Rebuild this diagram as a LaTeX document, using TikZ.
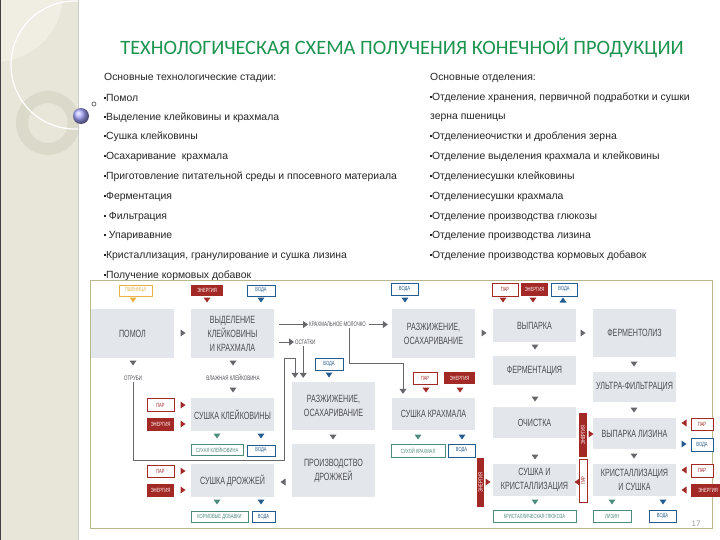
\documentclass[tikz,border=0pt]{standalone}
\usepackage{fontspec}
\setmainfont{Liberation Sans}
\newfontfamily\titlefont{Carlito}
\newfontfamily\narrowfont[FakeStretch=0.68]{Liberation Sans}
\usetikzlibrary{arrows.meta,positioning}

\definecolor{slidebg}{rgb}{0.91,0.90,0.85}
\definecolor{slidelight}{rgb}{0.94,0.93,0.89}
\definecolor{ringcol}{rgb}{0.86,0.85,0.79}
\definecolor{titlegreen}{rgb}{0.11,0.58,0.31}
\definecolor{framecol}{rgb}{0.72,0.72,0.55}
\definecolor{stagefill}{rgb}{0.89,0.905,0.92}
\definecolor{stagetext}{rgb}{0.30,0.30,0.32}
\definecolor{flowgray}{rgb}{0.40,0.40,0.42}
\definecolor{steamred}{rgb}{0.64,0.16,0.15}
\definecolor{waterblue}{rgb}{0.14,0.36,0.56}
\definecolor{prodgreen}{rgb}{0.30,0.55,0.49}
\definecolor{wheatgold}{rgb}{0.91,0.70,0.27}

\newcommand{\bul}{\rule[2.7pt]{1.9pt}{1.9pt}}

\tikzset{
  stage/.style={fill=stagefill,text=stagetext,inner sep=0pt,align=center,minimum width=83pt,font=\narrowfont\fontsize{10.5}{14}\selectfont},
  tagbox/.style={inner sep=0pt,line width=0.7pt,font=\narrowfont\fontsize{6}{6.5}\selectfont},
  steam/.style={tagbox,draw=steamred,fill=white,text=steamred},
  power/.style={tagbox,fill=steamred,text=white},
  water/.style={tagbox,draw=waterblue,fill=white,text=waterblue},
  product/.style={tagbox,draw=prodgreen,fill=white,text=prodgreen},
  grain/.style={tagbox,draw=wheatgold,fill=white,text=wheatgold},
  note/.style={inner sep=1pt,text=stagetext,font=\narrowfont\fontsize{6.5}{7}\selectfont},
  flow/.style={draw=flowgray,line width=0.8pt,-{Triangle[width=7pt,length=5pt]}},
  listtext/.style={anchor=west,inner sep=0pt,text=black!85,font=\fontsize{10.4}{12}\selectfont},
  tdown/.pic={\fill (-3.5,-2.5) -- (3.5,-2.5) -- (0,2.5) -- cycle;},
  tup/.pic={\fill (-3.5,2.5) -- (3.5,2.5) -- (0,-2.5) -- cycle;},
  tright/.pic={\fill (-2.5,-3.5) -- (-2.5,3.5) -- (2.5,0) -- cycle;},
  tleft/.pic={\fill (2.5,-3.5) -- (2.5,3.5) -- (-2.5,0) -- cycle;},
}

\begin{document}
\begin{tikzpicture}[x=1pt,y=-1pt]
\useasboundingbox (0,0) rectangle (720,540);
\fill[white] (0,0) rectangle (720,540);

% left stripe
\fill[slidebg] (0,0) rectangle (79,540);
\fill[slidelight] (0,0) -- (63,0) .. controls (58,38) and (32,58) .. (0,62) -- cycle;
\begin{scope}
\clip (0,0) rectangle (79,540);
\draw[ringcol,line width=12pt] (48,123) circle (26);
\draw[white,line width=1.2pt] (75,65) circle (64);
\end{scope}
\fill[black!75] (0,0) rectangle (1.3,540);
\fill[black!20] (78.3,0) rectangle (79.3,540);
\shade[ball color=blue!35!white] (81,116) circle (8);
\draw[flowgray,line width=0.7pt] (94,104) circle (2);

% title and lists
\node[font=\titlefont\fontsize{20.4}{24}\selectfont,text=titlegreen] (title) at (402,48) {ТЕХНОЛОГИЧЕСКАЯ СХЕМА ПОЛУЧЕНИЯ КОНЕЧНОЙ ПРОДУКЦИИ};

\node[listtext] (st0) at (104,78) {Основные технологические стадии:};
\node[listtext] (st1) at (104,98) {\bul Помол};
\node[listtext] (st2) at (104,118) {\bul Выделение клейковины и крахмала};
\node[listtext] (st3) at (104,137) {\bul Сушка клейковины};
\node[listtext] (st4) at (104,157) {\bul Осахаривание\ \ крахмала};
\node[listtext] (st5) at (104,177) {\bul Приготовление питательной среды и ппосевного материала};
\node[listtext] (st6) at (104,197) {\bul Ферментация};
\node[listtext] (st7) at (104,217) {\bul\ Фильтрация};
\node[listtext] (st8) at (104,236) {\bul\ Упаривавние};
\node[listtext] (st9) at (104,256) {\bul Кристаллизация, гранулирование и сушка лизина};
\node[listtext] (st10) at (104,276) {\bul Получение кормовых добавок};

\node[listtext] (dep0) at (430,78) {Основные отделения:};
\node[listtext] (dep1) at (430,98) {\bul Отделение хранения,\ первичной подработки и сушки};
\node[listtext] (dep1b) at (430,118) {зерна пшеницы};
\node[listtext] (dep2) at (430,137) {\bul Отделениеочистки и дробления зерна};
\node[listtext] (dep3) at (430,157) {\bul Отделение выделения крахмала и клейковины};
\node[listtext] (dep4) at (430,177) {\bul Отделениесушки клейковины};
\node[listtext] (dep5) at (430,197) {\bul Отделениесушки крахмала};
\node[listtext] (dep6) at (430,217) {\bul Отделение производства глюкозы};
\node[listtext] (dep7) at (430,236) {\bul Отделение производства лизина};
\node[listtext] (dep8) at (430,256) {\bul Отделение производства кормовых добавок};

% scheme frame
\draw[framecol,line width=0.8pt] (90,280) rectangle (712,528);

% process stages
\node[stage,minimum height=49pt] (pomol) at (132.5,333.5) {ПОМОЛ};
\node[stage,minimum height=49pt] (vydel) at (232.5,333.5) {ВЫДЕЛЕНИЕ\\КЛЕЙКОВИНЫ\\И КРАХМАЛА};
\node[stage,minimum height=49pt] (razzhA) at (433.5,333.5) {РАЗЖИЖЕНИЕ,\\ОСАХАРИВАНИЕ};
\node[stage,minimum height=33pt] (vyparka) at (534.5,325.5) {ВЫПАРКА};
\node[stage,minimum height=48pt] (fermliz) at (634.5,333) {ФЕРМЕНТОЛИЗ};
\node[stage,minimum height=48pt] (razzhB) at (333.5,406) {РАЗЖИЖЕНИЕ,\\ОСАХАРИВАНИЕ};
\node[stage,minimum height=53pt] (drozh) at (333.5,470.5) {ПРОИЗВОДСТВО\\ДРОЖЖЕЙ};
\node[stage,minimum height=33pt] (sushkl) at (232.5,414.5) {СУШКА КЛЕЙКОВИНЫ};
\node[stage,minimum height=33pt] (sushdr) at (232.5,480.5) {СУШКА ДРОЖЖЕЙ};
\node[stage,minimum height=32pt] (sushkr) at (433.5,414) {СУШКА КРАХМАЛА};
\node[stage,minimum height=29pt] (ferment) at (534.5,370.5) {ФЕРМЕНТАЦИЯ};
\node[stage,minimum height=31pt] (ochist) at (534.5,422.5) {ОЧИСТКА};
\node[stage,minimum height=32pt] (sushkrist) at (534.5,480) {СУШКА И\\КРИСТАЛЛИЗАЦИЯ};
\node[stage,minimum height=30pt] (ultra) at (634.5,387) {УЛЬТРА-ФИЛЬТРАЦИЯ};
\node[stage,minimum height=31pt] (vyplyz) at (634.5,433.5) {ВЫПАРКА ЛИЗИНА};
\node[stage,minimum height=32pt] (kristsush) at (634.5,480) {КРИСТАЛЛИЗАЦИЯ\\И СУШКА};

% inputs and outputs
\node[grain,minimum width=33pt,minimum height=11pt] (wheat) at (135.5,290.5) {ПШЕНИЦА};
\node[power,minimum width=32pt,minimum height=11pt] (enA) at (207,290.5) {ЭНЕРГИЯ};
\node[water,minimum width=28pt,minimum height=11pt] (wtA) at (261,290.5) {ВОДА};
\node[water,minimum width=27pt,minimum height=12pt] (wtB) at (404.5,289) {ВОДА};
\node[steam,minimum width=26pt,minimum height=13pt] (parA) at (505,289.5) {ПАР};
\node[power,minimum width=27pt,minimum height=13pt] (enB) at (534.5,289.5) {ЭНЕРГИЯ};
\node[water,minimum width=26pt,minimum height=13pt] (wtC) at (564,289.5) {ВОДА};
\node[water,minimum width=28pt,minimum height=12pt] (wtD) at (329,364) {ВОДА};
\node[steam,minimum width=24pt,minimum height=12pt] (parB) at (425,378) {ПАР};
\node[power,minimum width=31pt,minimum height=12pt] (enC) at (459.5,378) {ЭНЕРГИЯ};
\node[steam,minimum width=27pt,minimum height=13pt] (parC) at (160.5,405) {ПАР};
\node[power,minimum width=27pt,minimum height=13pt] (enD) at (160.5,424.5) {ЭНЕРГИЯ};
\node[product,minimum width=52pt,minimum height=11pt] (sukhkl) at (217,450) {СУХАЯ КЛЕЙКОВИНА};
\node[water,minimum width=28pt,minimum height=11pt] (wtE) at (261,450.5) {ВОДА};
\node[steam,minimum width=27pt,minimum height=12pt] (parD) at (160.5,471) {ПАР};
\node[power,minimum width=27pt,minimum height=13pt] (enE) at (160.5,490.5) {ЭНЕРГИЯ};
\node[product,minimum width=57pt,minimum height=11pt] (kormdob) at (219.5,516.5) {КОРМОВЫЕ ДОБАВКИ};
\node[water,minimum width=23pt,minimum height=11pt] (wtF) at (263.5,516.5) {ВОДА};
\node[product,minimum width=54pt,minimum height=13pt] (sukhkr) at (418,450.5) {СУХОЙ КРАХМАЛ};
\node[water,minimum width=27pt,minimum height=13pt] (wtG) at (461.5,450.5) {ВОДА};
\node[power,rotate=90,minimum width=49pt,minimum height=7pt] (enF) at (480.5,482.5) {ЭНЕРГИЯ};
\node[product,minimum width=83pt,minimum height=12pt] (kristgl) at (534.5,516) {КРИСТАЛЛИЧЕСКАЯ ГЛЮКОЗА};
\node[power,rotate=90,minimum width=44pt,minimum height=8pt] (enG) at (583,435) {ЭНЕРГИЯ};
\node[steam,rotate=90,minimum width=43pt,minimum height=8pt] (parE) at (583,480.5) {ПАР};
\node[product,minimum width=38pt,minimum height=12pt] (lizin) at (612,516) {ЛИЗИН};
\node[water,minimum width=27pt,minimum height=12pt] (wtH) at (662.5,516) {ВОДА};
\node[steam,minimum width=22pt,minimum height=12pt] (parF) at (702,424) {ПАР};
\node[water,minimum width=22pt,minimum height=13pt] (wtI) at (702,444.5) {ВОДА};
\node[steam,minimum width=22pt,minimum height=13pt] (parG) at (702,470.5) {ПАР};
\node[power,minimum width=34pt,minimum height=13pt] (enH) at (708,490.5) {ЭНЕРГИЯ};

% intermediate flows
\node[note] (otrubi) at (133,378) {ОТРУБИ};
\node[note] (klvl) at (233,378) {ВЛАЖНАЯ КЛЕЙКОВИНА};
\node[note,anchor=west] (milk) at (308,324.5) {КРАХМАЛЬНОЕ МОЛОЧКО};
\node[note,anchor=west] (ostatki) at (294,342) {ОСТАТКИ};

\draw[flow] ([xshift=5pt]vydel.east |- milk.west) -- (milk.west);
\draw[flow,shorten <=2pt,shorten >=4pt] (milk.east) -- (razzhA.west |- milk.east);
\draw[flow] ([xshift=5pt]vydel.east |- ostatki.west) -- (ostatki.west);
\draw[flow,shorten >=4pt] ([xshift=-2pt]ostatki.south) -- ([xshift=-2pt]ostatki.south |- razzhB.north);
\draw[flow,shorten >=4pt] ([xshift=12pt]milk.south) |- (403,363) -- ([xshift=-30.5pt]sushkr.north);
\draw[flow,shorten >=4pt] (otrubi.south) |- (284,460) |- (295,358) -- ([xshift=-38.5pt]razzhB.north);

% flow markers
\pic[wheatgold] at (133,300) {tdown};
\pic[steamred] at (207,300) {tdown};
\pic[waterblue] at (261,300) {tdown};
\pic[waterblue] at (405,300) {tdown};
\pic[steamred] at (503,300) {tdown};
\pic[steamred] at (533,300) {tdown};
\pic[waterblue] at (563,300) {tup};
\pic[flowgray] at (183,333) {tright};
\pic[flowgray] at (484,333) {tright};
\pic[flowgray] at (583,333) {tright};
\pic[flowgray] at (133,363) {tdown};
\pic[flowgray] at (233,363) {tdown};
\pic[flowgray] at (233,390) {tdown};
\pic[flowgray] at (535,347) {tdown};
\pic[flowgray] at (535,399) {tdown};
\pic[flowgray] at (535,457) {tdown};
\pic[flowgray] at (634,364) {tdown};
\pic[flowgray] at (634,410) {tdown};
\pic[flowgray] at (634,456) {tdown};
\pic[flowgray] at (333,437) {tdown};
\pic[flowgray] at (283,482) {tleft};
\pic[waterblue] at (329,375) {tdown};
\pic[steamred] at (426,390) {tdown};
\pic[steamred] at (460,390) {tdown};
\pic[steamred] at (183,405) {tright};
\pic[steamred] at (183,424) {tright};
\pic[steamred] at (183,471) {tright};
\pic[steamred] at (183,490) {tright};
\pic[prodgreen] at (217,436) {tdown};
\pic[waterblue] at (261,436) {tdown};
\pic[prodgreen] at (217,502) {tdown};
\pic[waterblue] at (261,502) {tdown};
\pic[prodgreen] at (418,437) {tdown};
\pic[waterblue] at (462,437) {tdown};
\pic[steamred] at (488,482) {tright};
\pic[prodgreen] at (535,502) {tdown};
\pic[steamred] at (591,434) {tright};
\pic[steamred] at (577,482) {tleft};
\pic[prodgreen] at (612,502) {tdown};
\pic[waterblue] at (663,502) {tdown};
\pic[steamred] at (684,423) {tleft};
\pic[waterblue] at (684,444) {tright};
\pic[steamred] at (684,470) {tleft};
\pic[steamred] at (684,490) {tleft};

\node[text=black!40,font=\fontsize{8}{9}\selectfont] (pagenum) at (696,524) {17};
\end{tikzpicture}
\end{document}
